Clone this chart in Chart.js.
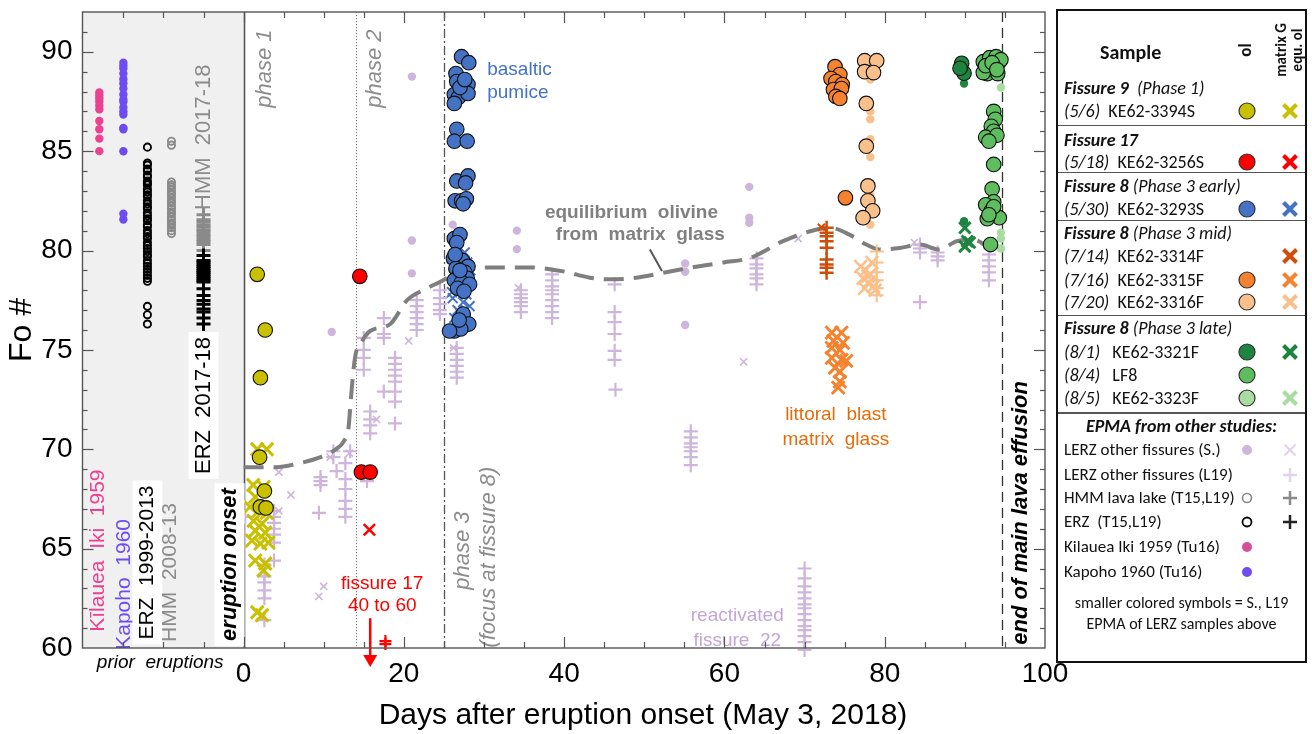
<!DOCTYPE html>
<html><head><meta charset="utf-8">
<script src="https://cdn.jsdelivr.net/npm/chart.js@4.4.1/dist/chart.umd.min.js"></script>
<style>
html,body{margin:0;padding:0;background:#fff;width:1312px;height:734px;overflow:hidden;}
#wrap{position:relative;width:1312px;height:734px;}
#c{position:absolute;left:0;top:0;}
#legend{position:absolute;left:1056px;top:9px;width:247px;height:650px;border:2px solid #111;font-family:Carlito,Lato,'Open Sans',sans-serif;font-size:18px;color:#111;}
#legend span.t{position:absolute;white-space:pre;line-height:22px;}
#legend .sep{position:absolute;left:0;width:247px;height:0;border-top:1.5px solid #555;}
#legend svg{position:absolute;}
</style></head>
<body><div id="wrap"><canvas id="c" width="1312" height="734"></canvas><div id="legend"></div></div>
<script>
// ---------- axis ranges & tick labels ----------
const xRange = [-20.1, 100];
const yRange = [60, 92];
const xTickLabels = [0, 20, 40, 60, 80, 100];
const yTickLabels = [60, 65, 70, 75, 80, 85, 90];

// ---------- prior eruptions (column position in days, Fo values) ----------
const kilaueaIkiX = -18;
const kilaueaIkiFo = [87.95, 87.8, 87.65, 87.48, 87.3, 87.1, 86.52, 86.1, 85.63, 85.0];
const kapohoX = -15;
const kapohoFo = [89.45, 89.3, 89.16, 88.9, 88.62, 88.4, 88.15, 87.85, 87.6, 87.48, 87.2, 87.0, 86.84, 86.17, 86.1, 84.99, 81.85, 81.56];
const erz1999X = -12;
const erz1999Fo = [85.2, 84.4, 84.3, 84.1, 84.0, 83.8, 83.7, 83.5, 83.4, 83.3, 83.1, 82.95, 82.8, 82.7, 82.5, 82.35, 82.2, 82.1, 81.9, 81.75, 81.6, 81.5, 81.3, 81.2, 81.0, 80.85, 80.7, 80.6, 80.4, 80.25, 80.1, 79.95, 79.8, 79.7, 79.5, 79.35, 79.2, 79.05, 78.9, 78.75, 78.6, 78.45, 77.19, 76.77, 76.3];
const hmm2008X = -9;
const hmm2008Fo = [85.5, 85.3, 83.45, 83.3, 83.2, 83.05, 82.9, 82.8, 82.65, 82.5, 82.4, 82.25, 82.1, 81.95, 81.85, 81.7, 81.55, 81.4, 81.3, 81.15, 81.0, 80.85];
const hmm2017X = -5;
const hmm2017Fo = [81.8, 81.55, 81.45, 81.3, 81.2, 81.05, 80.95, 80.8, 80.7, 80.55, 80.45, 80.3, 80.0];
const erz2017X = -5;
const erz2017Fo = [79.75, 79.5, 79.42, 79.3, 79.2, 79.1, 78.98, 78.9, 78.8, 78.7, 78.6, 78.5, 78.42, 78.07, 77.73, 77.48, 77.3, 77.06, 76.9, 76.6, 76.3];

// ---------- 2018 samples: [day, Fo] ----------
const fis9Ol = [[1.7,78.8],[2.7,76.0],[2.1,73.6],[2.0,69.6],[2.6,67.9],[2.1,67.1],[2.8,67.05]];
const fis9Glass = [[1.7,70.0],[2.9,70.0],[1.2,68.2],[2.5,68.1],[1.45,67.6],[0.8,67.1],[1.9,66.9],[2.9,66.8],[1.25,66.4],[2.3,66.25],[1.45,65.9],[2.7,65.8],[1.05,65.4],[2.1,65.25],[3.1,65.3],[1.45,64.4],[2.7,64.25],[2.5,63.9],[1.7,61.8],[2.3,61.65]];
const fis17Ol = [[14.5,78.7],[14.7,68.85],[15.8,68.85]];
const fis17Glass = [[15.7,65.95]];
const fis17L19 = [[17.7,60.35],[17.7,60.2]];
const f8EarlyOl = [[27.2,89.75],[28.1,89.45],[26.5,88.9],[26.6,88.5],[28.0,88.35],[27.5,88.0],[26.3,87.85],[26.8,87.7],[28.0,87.9],[26.3,87.4],[27.0,88.2],[27.6,88.6],[26.6,86.1],[26.3,85.5],[27.9,85.5],[26.6,83.5],[28.0,83.75],[27.7,83.4],[26.4,82.5],[27.2,82.5],[27.8,82.6],[27.4,82.35],[26.3,80.6],[27.0,80.8],[26.6,80.4],[26.2,79.6],[27.3,79.5],[28.0,79.2],[26.5,79.1],[27.6,78.9],[26.8,78.7],[27.9,78.6],[26.3,78.5],[27.2,78.4],[28.2,78.3],[26.7,78.1],[27.5,77.95],[26.4,79.8],[27.0,79.0],[27.4,76.8],[28.1,76.3],[26.3,75.95],[27.1,76.05],[25.7,75.95],[26.9,76.5]];
const f8EarlyGlass = [[26.5,80.1],[27.6,79.9],[26.0,79.6],[27.9,79.4],[26.8,79.2],[28.3,79.0],[26.2,78.8],[27.3,78.6],[28.0,78.4],[26.5,78.2],[27.0,78.0],[27.8,77.8],[26.1,77.6],[27.4,77.4],[28.2,77.2],[26.7,77.0],[27.1,76.8],[26.3,76.6],[27.7,76.5],[26.0,77.9],[27.2,79.5],[26.9,78.5]];
const f3314Glass = [[72.1,81.17]];
const f3314L19 = [[72.75,81.14],[72.75,80.89],[72.75,80.72],[72.75,80.47],[72.75,80.14],[72.75,79.55],[72.75,79.3],[72.75,79.13],[72.75,78.88]];
const f3315Ol = [[73.8,89.25],[74.4,88.85],[73.3,88.65],[73.9,88.5],[74.7,88.35],[73.6,88.1],[74.6,88.15],[73.9,87.75],[74.4,87.65],[75.1,82.65]];
const f3315Glass = [[73.4,75.87],[74.6,75.87],[73.6,75.45],[74.8,75.35],[73.4,75.1],[74.4,75.0],[73.4,74.6],[74.6,74.5],[75.2,74.45],[73.8,74.1],[74.4,73.9],[74.4,73.4],[74.2,73.1]];
const f3316Ol = [[77.5,89.55],[79.0,89.55],[77.5,89.0],[78.6,88.95],[77.7,87.4],[77.7,85.25],[77.9,83.25],[77.9,82.5],[78.5,82.0],[77.3,81.65]];
const f3316Glass = [[77.0,79.2],[77.6,79.0],[78.2,78.8],[77.3,78.6],[78.0,78.4],[78.6,78.2],[77.5,78.1],[78.4,79.4],[77.9,78.7],[78.8,78.0]];
const f3316Small = [[78.2,88.6],[78.2,87.0],[78.2,86.6],[78.2,85.6],[78.2,84.7],[78.2,82.8],[78.2,81.3]];
const f3316L19 = [[79.0,79.95],[79.0,79.4],[79.0,78.9],[79.0,78.5],[79.0,78.1],[79.0,77.75]];
const f3321Ol = [[89.6,89.42],[89.9,88.92],[89.4,89.17]];
const f3321Small = [[89.9,88.4],[89.9,81.47]];
const f3321Glass = [[90.0,81.14],[90.3,80.47],[90.0,80.2],[90.6,80.4]];
const lf8Ol = [[92.3,89.5],[93.1,89.7],[93.9,89.75],[94.3,89.5],[93.6,89.2],[92.8,88.9],[92.3,88.95],[94.1,88.9],[94.5,89.6],[92.6,89.3],[93.4,89.45],[94.0,89.1],[93.6,87.0],[93.8,86.6],[93.3,86.25],[93.6,86.0],[92.6,85.7],[94.0,85.8],[93.0,85.5],[93.6,84.33],[93.4,83.1],[93.6,82.45],[92.6,82.3],[93.3,82.0],[94.3,81.65],[92.8,81.6],[93.6,82.2],[93.0,81.8],[93.2,80.3]];
const f3323Small = [[94.5,88.2],[94.5,80.9],[94.5,80.6],[94.5,80.1]];

// ---------- EPMA from other studies (LERZ other fissures) ----------
const lerzSOl = [[11.0,75.9],[21.0,88.75],[21.0,80.5],[21.0,78.85],[26.1,81.3],[34.1,81.0],[34.1,80.07],[55.1,79.35],[55.1,78.93],[55.1,76.25],[63.1,83.2],[63.1,81.65],[63.1,81.4]];
const lerzSGlass = [[4.4,68.85],[5.9,67.7],[10.0,63.1],[9.4,62.6],[16.6,71.5],[20.6,75.45],[10.8,69.6],[13.2,69.8],[26.2,75.1],[34.3,78.13],[62.4,74.4],[69.2,80.6],[83.7,80.4],[4.4,66.9]];
const lerzL19 = [[0.2,66.6],[3.8,66.9],[3.8,66.6],[3.8,66.3],[3.8,66.0],[3.8,65.7],[3.8,65.3],[3.8,64.4],[2.6,64.2],[2.6,63.6],[2.6,63.3],[2.6,62.9],[2.6,62.5],[2.6,61.4],
 [9.6,68.6],[9.6,68.4],[9.6,68.2],[9.4,66.8],[11.2,69.9],[11.2,69.6],[11.6,68.9],[12.7,69.3],[12.7,68.5],[12.7,68.0],[12.7,67.4],[12.7,67.0],[12.7,66.6],[13.3,69.9],
 [15.4,68.4],[15.0,75.6],[15.0,75.0],[15.0,74.6],[15.0,74.0],[17.5,75.6],[15.8,71.9],[15.8,71.5],[15.8,71.2],[15.8,70.8],[17.5,72.9],[18.9,74.6],[18.9,74.3],[18.9,74.0],[18.9,73.7],[18.9,73.4],[18.9,72.9],[18.9,72.4],[18.9,71.3],[17.5,76.6],[17.5,75.8],
 [21.6,77.5],[21.6,77.2],[21.6,76.9],[21.6,76.6],[21.6,76.3],[21.6,76.0],[24.5,78.0],[24.5,77.6],[24.5,77.3],[24.5,77.0],[24.5,76.8],[26.6,75.1],[26.6,74.8],[26.6,74.5],[26.6,74.2],[26.6,73.9],[26.6,73.6],
 [34.6,78.0],[34.6,77.8],[34.6,77.6],[34.6,77.4],[34.6,77.2],[34.6,76.9],[38.5,78.8],[38.5,78.5],[38.5,78.2],[38.5,78.0],[38.5,77.8],[38.5,77.5],[38.5,77.2],[38.5,76.9],[38.5,76.6],
 [46.3,78.3],[46.3,76.9],[46.3,76.4],[46.3,75.8],[46.3,74.95],[46.3,74.5],[46.4,73.0],[55.8,70.9],[55.8,70.6],[55.8,70.3],[55.8,70.1],[55.8,69.9],[55.8,69.6],[55.8,69.2],
 [64.0,79.6],[64.0,79.3],[64.0,79.1],[64.0,78.8],[64.0,78.6],[64.0,78.3],[84.4,80.3],[84.4,80.1],[84.4,79.9],[86.6,79.9],[86.6,79.7],[86.6,79.5],[84.4,77.4],
 [93.0,79.8],[93.0,79.5],[93.0,79.2],[93.0,78.9],[93.0,78.5]];
const fissure22L19 = [[70,64.0],[70,63.5],[70,63.1],[70,62.8],[70,62.5],[70,62.2],[70,62.0],[70,61.7],[70,61.4],[70,61.1],[70,60.9],[70,60.6],[70,60.3],[70,59.9]];

// ---------- equilibrium olivine from matrix glass ----------
const eqLine = [[0,69.1],[4,69.1],[7,69.3],[9.6,69.6],[11.5,70.0],[12.5,70.4],[13.1,71.1],[13.4,72.6],[13.9,74.6],[14.8,75.45],[15.8,75.95],[18.3,76.3],[20.4,77.5],[22.9,78.1],[24.9,78.5],[27,79.0],[29.9,79.15],[35.7,79.15],[39.9,78.95],[43.2,78.63],[45.7,78.55],[49,78.63],[52.4,78.88],[55.7,79.13],[59.9,79.4],[63.2,79.63],[67.3,80.47],[70.7,80.97],[73.2,81.14],[75.6,80.8],[77.7,80.3],[79.4,80.05],[81.9,80.13],[84.4,80.3],[86.8,80.05],[89,80.47],[91,80.55],[93.1,80.13]];

// ---------- colours ----------
const COL = {yellow:'#C8C000', red:'#FF0000', blue:'#4472C4', dkOrange:'#CF4E0C', orange:'#F4822E', ltOrange:'#F9C08C',
  dkGreen:'#1E8540', green:'#5EBD5E', ltGreen:'#A8DCA0', lerz:'#CDB5DC', pink:'#EC4090', kapoho:'#6E4CF0', hmm:'#8A8A8A', black:'#000'};

const pts = a => a.map(p => ({x:p[0], y:p[1]}));
const col = (x, fos) => fos.map(v => [x, v]);
const bigCircle = c => ({pointStyle:'circle', pointRadius:7.3, backgroundColor:c, borderColor:'#111', borderWidth:1.1});
const smallDot = c => ({pointStyle:'circle', pointRadius:4.2, backgroundColor:c, borderColor:c, borderWidth:0});
const xMark = (c, r, w) => ({pointStyle:'crossRot', pointRadius:r, borderColor:c, backgroundColor:c, borderWidth:w});
const plus = (c, r, w) => ({pointStyle:'cross', pointRadius:r, borderColor:c, backgroundColor:c, borderWidth:w});
const openCircle = (c) => ({pointStyle:'circle', pointRadius:3.6, backgroundColor:'rgba(0,0,0,0)', borderColor:c, borderWidth:1.9});

// bottom -> top drawing order
const layers = [
  ['LERZ other fissures (S.) ol', lerzSOl, smallDot(COL.lerz)],
  ['LERZ other fissures (S.) glass', lerzSGlass, xMark(COL.lerz, 5, 1.6)],
  ['LERZ other fissures (L19)', lerzL19, plus(COL.lerz, 7, 2.2)],
  ['reactivated fissure 22', fissure22L19, Object.assign(plus(COL.lerz, 7, 2.2), {clip:false})],
  ['equilibrium olivine', eqLine, {showLine:true, borderColor:'#7F7F7F', borderWidth:4, borderDash:[20,10], pointRadius:0, cubicInterpolationMode:'monotone', fill:false}],
  ['Kilauea Iki 1959', col(kilaueaIkiX, kilaueaIkiFo), smallDot(COL.pink)],
  ['Kapoho 1960', col(kapohoX, kapohoFo), smallDot(COL.kapoho)],
  ['ERZ 1999-2013', col(erz1999X, erz1999Fo), openCircle('#000')],
  ['HMM 2008-13', col(hmm2008X, hmm2008Fo), openCircle(COL.hmm)],
  ['HMM 2017-18', col(hmm2017X, hmm2017Fo), plus(COL.hmm, 7, 3)],
  ['ERZ 2017-18', col(erz2017X, erz2017Fo), plus('#000', 7, 3)],
  ['KE62-3256S L19', fis17L19, Object.assign(plus(COL.red, 6, 2.2), {clip:false})],
  ['KE62-3316F S.', f3316Small, smallDot(COL.ltOrange)],
  ['KE62-3316F L19', f3316L19, plus(COL.ltOrange, 7, 2)],
  ['KE62-3314F L19', f3314L19, plus(COL.dkOrange, 7, 2.5)],
  ['KE62-3321F S.', f3321Small, smallDot(COL.dkGreen)],
  ['KE62-3323F S.', f3323Small, smallDot(COL.ltGreen)],
  ['KE62-3394S glass', fis9Glass, xMark(COL.yellow, 9, 3)],
  ['KE62-3256S glass', fis17Glass, xMark(COL.red, 8, 2.5)],
  ['KE62-3293S glass', f8EarlyGlass, xMark(COL.blue, 7, 2)],
  ['KE62-3314F glass', f3314Glass, xMark(COL.dkOrange, 5, 2)],
  ['KE62-3315F glass', f3315Glass, xMark(COL.orange, 9, 3)],
  ['KE62-3316F glass', f3316Glass, xMark(COL.ltOrange, 9, 2.5)],
  ['KE62-3321F glass', f3321Glass, xMark(COL.dkGreen, 8, 3)],
  ['KE62-3394S ol', fis9Ol, bigCircle(COL.yellow)],
  ['KE62-3256S ol', fis17Ol, bigCircle(COL.red)],
  ['KE62-3293S ol', f8EarlyOl, bigCircle(COL.blue)],
  ['KE62-3315F ol', f3315Ol, bigCircle(COL.orange)],
  ['KE62-3316F ol', f3316Ol, bigCircle(COL.ltOrange)],
  ['KE62-3321F ol', f3321Ol, bigCircle(COL.dkGreen)],
  ['LF8 ol', lf8Ol, bigCircle(COL.green)],
];
const datasets = layers.map((l, i) => Object.assign({label:l[0], data:pts(l[1]), showLine:false, order: layers.length - i}, l[2]));

const FONT = "'Liberation Sans', Arial, sans-serif";

const decor = {
  id:'decor',
  beforeDatasetsDraw(chart){
    const {ctx, chartArea:a, scales:{x,y}} = chart;
    ctx.save();
    const x0 = x.getPixelForValue(0);
    ctx.fillStyle = '#F0F0F0';
    ctx.fillRect(a.left, a.top, x0 - a.left, a.bottom - a.top);
    const vlines = [{d:0,dash:[],w:1.6,c:'#555'},{d:14,dash:[1.2,1.8],w:1,c:'#777'},{d:25,dash:[9,3,2,3],w:1.3,c:'#555'},{d:94.6,dash:[10,6],w:1.3,c:'#333'}];
    vlines.forEach(v => {
      const px = Math.round(x.getPixelForValue(v.d)) + 0.5;
      ctx.beginPath(); ctx.setLineDash(v.dash); ctx.lineWidth = v.w; ctx.strokeStyle = v.c;
      ctx.moveTo(px, a.top); ctx.lineTo(px, a.bottom); ctx.stroke();
    });
    ctx.restore();
  },
  afterDatasetsDraw(chart){
    const {ctx, chartArea:a, scales:{x,y}} = chart;
    ctx.save();
    const notes = [
      {t:'phase 1', d:2.7, f:89.15, rot:true, font:'italic 22px', c:'#8C8C8C'},
      {t:'phase 2', d:16.4, f:89.15, rot:true, font:'italic 22px', c:'#8C8C8C'},
      {t:'phase 3', d:27.4, f:64.9, rot:true, font:'italic 22px', c:'#8C8C8C'},
      {t:'(focus at fissure 8)', d:30.6, f:64.57, rot:true, font:'italic 22px', c:'#8C8C8C'},
      {t:'eruption onset', d:-1.75, f:64.2, rot:true, font:'bold italic 22px', c:'#000', bg:true},
      {t:'end of main lava effusion', d:96.95, f:66.8, rot:true, font:'bold italic 22px', c:'#000'},
      {t:'ERZ  2017-18', d:-5, f:72.2, rot:true, font:'22px', c:'#000', bg:true},
      {t:'HMM  2017-18', d:-5, f:85.7, rot:true, font:'22px', c:'#8C8C8C'},
      {t:'K\u012blauea  Iki  1959', d:-18.2, f:64.9, rot:true, font:'21px', c:COL.pink},
      {t:'Kapoho  1960', d:-14.9, f:63.2, rot:true, font:'21px', c:COL.kapoho},
      {t:'ERZ  1999-2013', d:-12, f:64.3, rot:true, font:'21px', c:'#000', bg:true},
      {t:'HMM  2008-13', d:-9.1, f:63.8, rot:true, font:'21px', c:'#8C8C8C'},
      {t:'basaltic', d:30.4, f:89.1, font:'19px', c:COL.blue, align:'left'},
      {t:'pumice', d:30.4, f:87.96, font:'19px', c:COL.blue, align:'left'},
      {t:'equilibrium  olivine', d:48.4, f:81.9, font:'bold 19px', c:'#808080'},
      {t:'from  matrix  glass', d:49.5, f:80.77, font:'bold 19px', c:'#808080'},
      {t:'fissure 17', d:17.3, f:63.21, font:'19px', c:COL.red},
      {t:'40 to 60', d:17.3, f:62.1, font:'19px', c:COL.red},
      {t:'littoral  blast', d:73.9, f:71.74, font:'19px', c:'#E46C0A'},
      {t:'matrix  glass', d:73.9, f:70.49, font:'19px', c:'#E46C0A'},
      {t:'reactivated', d:61.6, f:61.6, font:'19px', c:'#C4A6D6'},
      {t:'fissure  22', d:61.6, f:60.35, font:'19px', c:'#C4A6D6'},
      {t:'prior  eruptions', d:-10.4, f:59.25, font:'italic 19px', c:'#000'},
    ];
    notes.forEach(n => {
      const px = x.getPixelForValue(n.d), py = y.getPixelForValue(n.f);
      ctx.save();
      ctx.font = n.font + ' ' + FONT;
      ctx.translate(px, py);
      if (n.rot) ctx.rotate(-Math.PI/2);
      const w = ctx.measureText(n.t).width;
      if (n.bg) { ctx.fillStyle = '#fff'; ctx.fillRect(-w/2 - 5, -15, w + 10, 30); }
      ctx.fillStyle = n.c; ctx.textAlign = n.align || 'center'; ctx.textBaseline = 'middle';
      ctx.fillText(n.t, 0, 0);
      ctx.restore();
    });
    ctx.strokeStyle = '#555'; ctx.lineWidth = 2; ctx.setLineDash([]);
    ctx.beginPath(); ctx.moveTo(x.getPixelForValue(50.7), y.getPixelForValue(80.05)); ctx.lineTo(x.getPixelForValue(52.2), y.getPixelForValue(78.97)); ctx.stroke();
    const ax = x.getPixelForValue(15.8), ay0 = y.getPixelForValue(61.5), ay1 = y.getPixelForValue(59.05), ah = y.getPixelForValue(59.65);
    ctx.strokeStyle = COL.red; ctx.fillStyle = COL.red; ctx.lineWidth = 2.5;
    ctx.beginPath(); ctx.moveTo(ax, ay0); ctx.lineTo(ax, ah); ctx.stroke();
    ctx.beginPath(); ctx.moveTo(ax - 7, ah); ctx.lineTo(ax + 7, ah); ctx.lineTo(ax, ay1); ctx.closePath(); ctx.fill();
    ctx.strokeStyle = '#555'; ctx.lineWidth = 1.2;
    const seg = (x1,y1,x2,y2) => { ctx.beginPath(); ctx.moveTo(x1,y1); ctx.lineTo(x2,y2); ctx.stroke(); };
    for (let v = yRange[0] + 1; v < yRange[1]; v++) {
      const py = Math.round(y.getPixelForValue(v)) + 0.5, L = v % 5 === 0 ? 11 : 5;
      seg(a.left, py, a.left + L, py); seg(a.right, py, a.right - L, py);
    }
    for (let d = -15; d < 100; d += 5) {
      const px = Math.round(x.getPixelForValue(d)) + 0.5, L = d % 20 === 0 ? 11 : 6;
      seg(px, a.bottom, px, a.bottom - L); seg(px, a.top, px, a.top + L);
    }
    ctx.lineWidth = 1.4;
    ctx.strokeRect(a.left, a.top, a.right - a.left, a.bottom - a.top);
    ctx.fillStyle = '#000'; ctx.font = '30px ' + FONT; ctx.textAlign = 'center'; ctx.textBaseline = 'middle';
    ctx.fillText('Days after eruption onset (May 3, 2018)', 643, 716);
    ctx.restore();
  }
};

new Chart(document.getElementById('c'), {
  type:'scatter',
  data:{datasets},
  options:{
    responsive:false, animation:false, devicePixelRatio:1, events:[],
    layout:{padding:{left:0, right:267, top:10, bottom:0}},
    plugins:{legend:{display:false}, tooltip:{enabled:false}},
    scales:{
      x:{type:'linear', min:xRange[0], max:xRange[1],
         afterBuildTicks: s => { s.ticks = xTickLabels.map(v => ({value:v})); },
         afterFit: s => { s.height = 86; s.paddingLeft = 0; s.paddingRight = 0; },
         grid:{display:false, drawTicks:false}, border:{display:false},
         ticks:{font:{size:28, family:FONT}, color:'#000', padding:9, maxRotation:0, autoSkip:false}},
      y:{type:'linear', min:yRange[0], max:yRange[1],
         afterBuildTicks: s => { s.ticks = yTickLabels.map(v => ({value:v})); },
         afterFit: s => { s.width = 82.5; s.paddingTop = 0; s.paddingBottom = 0; },
         grid:{display:false, drawTicks:false}, border:{display:false},
         ticks:{font:{size:28, family:FONT}, color:'#000', padding:10, autoSkip:false},
         title:{display:true, text:'Fo #', font:{size:32, family:FONT}, color:'#000', padding:{top:3, bottom:0}}}
    }
  },
  plugins:[decor]
});

// ---------- legend (HTML) ----------
(function(){
  const lg = document.getElementById('legend');
  const OX = 1058, OY = 11;
  let h = '';
  const t = (html, x, y, css) => { h += `<span class="t" style="left:${x-OX}px;top:${y-OY-11}px;${css||''}">${html}</span>`; };
  const tc = (html, cx, y, css) => { h += `<span class="t" style="left:0;width:247px;text-align:center;top:${y-OY-11}px;${css||''}">${html}</span>`; };
  const rt = (html, cx, cy, css) => { h += `<span class="t" style="left:${cx-OX-60}px;top:${cy-OY-11}px;width:120px;text-align:center;transform:rotate(-90deg);${css||''}">${html}</span>`; };
  const sep = (y, w) => { h += `<div class="sep" style="top:${y-OY}px;border-top-width:${w||1.5}px"></div>`; };
  const svg = (inner, cx, cy) => { h += `<svg width="22" height="22" viewBox="0 0 22 22" style="left:${cx-OX-11}px;top:${cy-OY-11}px">${inner}</svg>`; };
  const circ = (c, cx, cy, r, stroke, sw) => svg(`<circle cx="11" cy="11" r="${r}" fill="${c}" stroke="${stroke}" stroke-width="${sw}"/>`, cx, cy);
  const ex = (c, cx, cy, s, w) => svg(`<line x1="${11-s}" y1="${11-s}" x2="${11+s}" y2="${11+s}" stroke="${c}" stroke-width="${w}"/><line x1="${11-s}" y1="${11+s}" x2="${11+s}" y2="${11-s}" stroke="${c}" stroke-width="${w}"/>`, cx, cy);
  const pl = (c, cx, cy, s, w) => svg(`<line x1="${11-s}" y1="11" x2="${11+s}" y2="11" stroke="${c}" stroke-width="${w}"/><line x1="11" y1="${11-s}" x2="11" y2="${11+s}" stroke="${c}" stroke-width="${w}"/>`, cx, cy);
  const CX = 1247, XX = 1290;
  t('<b>Sample</b>', 1100, 52, 'font-size:20px');
  rt('<b>ol</b>', 1246, 50, 'font-size:17px');
  rt('matrix G', 1281, 50, 'font-size:15px;font-weight:bold');
  rt('equ. ol', 1297, 50, 'font-size:15px;font-weight:bold');
  const rows = [
    [88, '<b><i>Fissure 9</i></b>  <i>(Phase 1)</i>'],
    [111, '<i>(5/6)</i>  KE62-3394S', COL.yellow, COL.yellow],
    [140, '<b><i>Fissure 17</i></b>'],
    [162, '<i>(5/18)</i>  KE62-3256S', COL.red, COL.red],
    [186, '<b><i>Fissure 8</i></b> <i>(Phase 3 early)</i>'],
    [209, '<i>(5/30)</i>  KE62-3293S', COL.blue, COL.blue],
    [233, '<b><i>Fissure 8</i></b> <i>(Phase 3 mid)</i>'],
    [256, '<i>(7/14)</i>  KE62-3314F', null, COL.dkOrange],
    [280, '<i>(7/16)</i>  KE62-3315F', COL.orange, COL.orange],
    [302, '<i>(7/20)</i>  KE62-3316F', COL.ltOrange, COL.ltOrange],
    [328, '<b><i>Fissure 8</i></b> <i>(Phase 3 late)</i>'],
    [352, '<i>(8/1)</i>   KE62-3321F', COL.dkGreen, COL.dkGreen],
    [375, '<i>(8/4)</i>   LF8', COL.green, null],
    [398, '<i>(8/5)</i>   KE62-3323F', COL.ltGreen, COL.ltGreen],
  ];
  rows.forEach(r => {
    t(r[1], 1064, r[0]);
    if (r[2]) circ(r[2], CX, r[0], 8, '#333', 1.2);
    if (r[3]) ex(r[3], XX, r[0], 6.5, 4);
  });
  sep(125); sep(172); sep(220); sep(315); sep(412, 2);
  tc('<b><i>EPMA from other studies:</i></b>', 0, 426);
  const small = 'font-size:17px';
  t('LERZ other fissures (S.)', 1064, 450, small); circ(COL.lerz, CX, 450, 5, 'none', 0); ex('#E2D2EA', XX, 450, 5.5, 2);
  t('LERZ other fissures (L19)', 1064, 475, small); pl('#E2D2EA', XX, 475, 7, 2.5);
  t('HMM lava lake (T15,L19)', 1064, 498, small); circ('none', CX, 498, 4.5, '#888', 1.6); pl('#8A8A8A', XX, 498, 7, 2.5);
  t('ERZ  (T15,L19)', 1064, 522, small); circ('none', CX, 522, 4.5, '#000', 1.8); pl('#222', XX, 522, 7, 2.5);
  t('Kilauea Iki 1959 (Tu16)', 1064, 547, small); circ('#D64F9A', CX, 547, 5, 'none', 0);
  t('Kapoho 1960 (Tu16)', 1064, 572, small); circ('#6E4CF0', CX, 572, 5, 'none', 0);
  tc('smaller colored symbols = S., L19', 0, 603, 'font-size:16px');
  tc('EPMA of LERZ samples above', 0, 624, 'font-size:16px');
  lg.innerHTML = h;
})();
</script>
</body></html>
